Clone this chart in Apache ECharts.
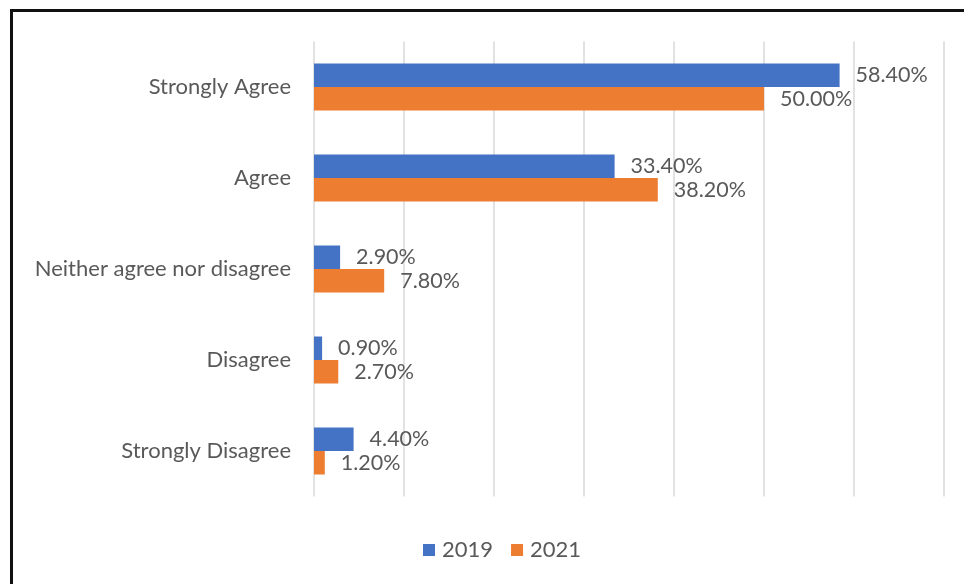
<!DOCTYPE html>
<html>
<head>
<meta charset="utf-8">
<script src="https://cdn.jsdelivr.net/npm/echarts@6/dist/echarts.min.js"></script>
<style>
  html, body { margin: 0; padding: 0; background: #fff; }
  #chart { width: 964px; height: 584px; position: absolute; left: 0; top: 0; }
  #frame { position: absolute; left: 10px; top: 9px; width: 1000px; height: 700px;
           border-top: 3px solid #111; border-left: 3px solid #111; pointer-events: none; }
</style>
</head>
<body>
<div id="chart"></div>
<div id="frame"></div>
<script>
// Survey responses, listed top to bottom
const categories = ['Strongly Agree', 'Agree', 'Neither agree nor disagree', 'Disagree', 'Strongly Disagree'];
const seriesNames = ['2019', '2021'];
const values2019 = [58.4, 33.4, 2.9, 0.9, 4.4];
const values2021 = [50.0, 38.2, 7.8, 2.7, 1.2];

const FONT = 'Lato, "Open Sans", sans-serif';
const TEXT = '#595959';

const chart = echarts.init(document.getElementById('chart'));

function barSeries(name, data, color) {
  return {
    name: name,
    type: 'bar',
    data: data,
    barWidth: 23.5,
    barGap: '0%',
    itemStyle: { color: color },
    label: {
      show: true,
      position: 'right',
      distance: 16,
      color: TEXT,
      fontFamily: FONT,
      fontSize: 21.5,
      formatter: p => p.value.toFixed(2) + '%'
    }
  };
}

chart.setOption({
  animation: false,
  backgroundColor: '#fff',
  grid: { left: 314, right: 20, top: 41.5, bottom: 87.5, containLabel: false },
  legend: {
    data: seriesNames,
    bottom: 18,
    left: 418,
    itemWidth: 12,
    itemHeight: 12,
    itemGap: 18,
    icon: 'rect',
    textStyle: { color: TEXT, fontFamily: FONT, fontSize: 22, padding: [0, 0, 0, 2] }
  },
  xAxis: {
    type: 'value',
    min: 0,
    max: 70,
    interval: 10,
    axisLabel: { show: false },
    axisLine: { show: false },
    axisTick: { show: false },
    splitLine: { show: true, lineStyle: { color: '#d9d9d9', width: 1.5 } }
  },
  yAxis: {
    type: 'category',
    data: categories,
    inverse: true,
    axisLine: { show: false },
    axisTick: { show: false },
    axisLabel: { color: TEXT, fontFamily: FONT, fontSize: 22, margin: 23 }
  },
  series: [
    barSeries(seriesNames[0], values2019, '#4472C4'),
    barSeries(seriesNames[1], values2021, '#ED7D31')
  ]
});
</script>
</body>
</html>
